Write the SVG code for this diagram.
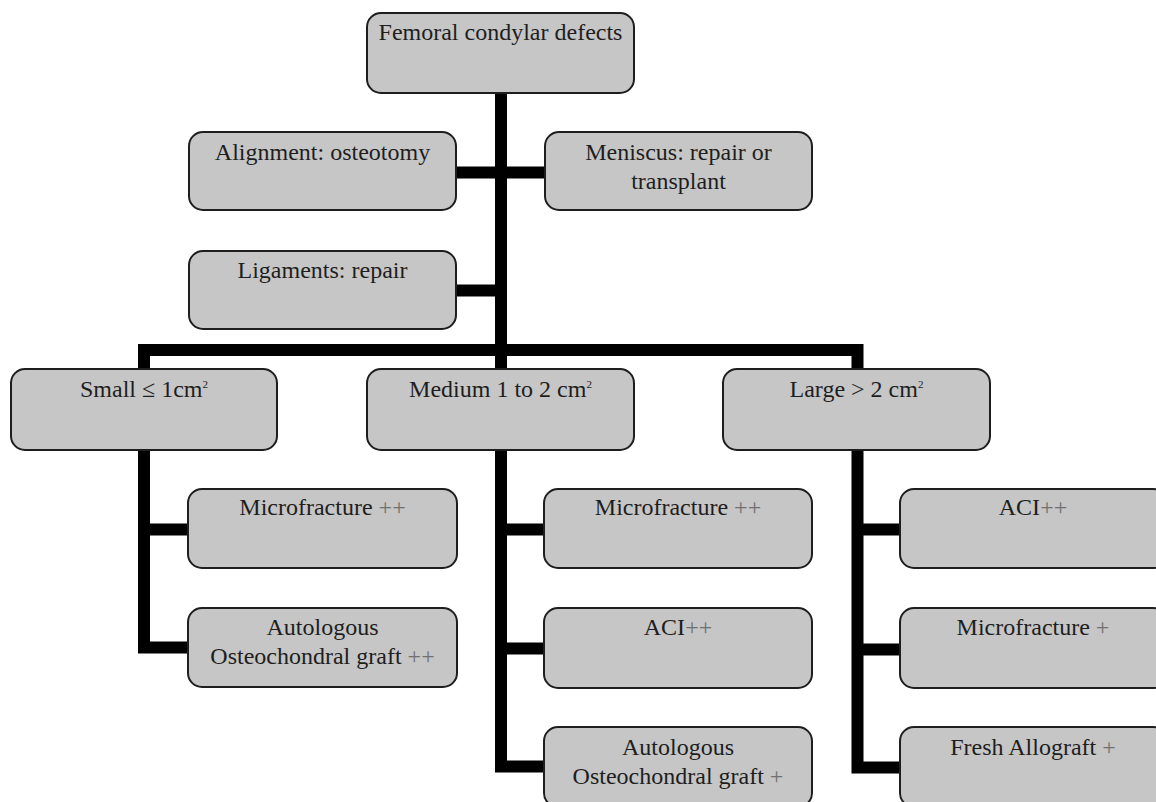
<svg xmlns="http://www.w3.org/2000/svg" width="1156" height="802" viewBox="0 0 1156 802">
<style>
.box{fill:#c6c6c6;stroke:#1e1e1e;stroke-width:2}
.t{font-family:"Liberation Serif","Times New Roman",serif;font-size:24px;fill:#1e1e1e;text-anchor:middle}
.p{fill:#707070}
.sup{font-size:11px}
.c{fill:none;stroke:#000;stroke-width:12;stroke-linejoin:miter;stroke-linecap:butt}
</style>
<rect width="1156" height="802" fill="#fff"/>
<g id="connectors">
<path class="c" d="M501 93 V369"/>
<path class="c" d="M456 172.5 H545"/>
<path class="c" d="M456 290.5 H501"/>
<path class="c" d="M144 369 V350 H857.5 V369"/>
<path class="c" d="M144 450 V647.5 H188"/>
<path class="c" d="M144 529.5 H188"/>
<path class="c" d="M501 450 V766.5 H544"/>
<path class="c" d="M501 529.5 H544"/>
<path class="c" d="M501 648.5 H544"/>
<path class="c" d="M857.5 450 V767.5 H900"/>
<path class="c" d="M857.5 529.5 H900"/>
<path class="c" d="M857.5 649.5 H900"/>
</g>
<g id="root"><rect class="box" x="367" y="13" width="267" height="80" rx="14"/><text class="t" x="500.5" y="40">Femoral condylar defects</text></g>
<g id="alignment"><rect class="box" x="189" y="132" width="267" height="78" rx="14"/><text class="t" x="322.5" y="160">Alignment: osteotomy</text></g>
<g id="meniscus"><rect class="box" x="545" y="132" width="267" height="78" rx="14"/><text class="t" x="678.5" y="160">Meniscus: repair or</text><text class="t" x="678.5" y="189">transplant</text></g>
<g id="ligaments"><rect class="box" x="189" y="251" width="267" height="78" rx="14"/><text class="t" x="322.5" y="278">Ligaments: repair</text></g>
<g id="small"><rect class="box" x="11" y="369" width="266" height="81" rx="14"/><text class="t" x="144" y="397">Small ≤ 1cm<tspan class="sup" dy="-9">2</tspan></text></g>
<g id="medium"><rect class="box" x="367" y="369" width="267" height="81" rx="14"/><text class="t" x="500.5" y="397">Medium 1 to 2 cm<tspan class="sup" dy="-9">2</tspan></text></g>
<g id="large"><rect class="box" x="723" y="369" width="267" height="81" rx="14"/><text class="t" x="856.5" y="397">Large &gt; 2 cm<tspan class="sup" dy="-9">2</tspan></text></g>
<g id="small-micro"><rect class="box" x="188" y="489" width="269" height="79" rx="14"/><text class="t" x="322.5" y="515">Microfracture <tspan class="p">++</tspan></text></g>
<g id="small-auto"><rect class="box" x="188" y="608" width="269" height="79" rx="14"/><text class="t" x="322.5" y="635">Autologous</text><text class="t" x="322.5" y="664">Osteochondral graft <tspan class="p">++</tspan></text></g>
<g id="medium-micro"><rect class="box" x="544" y="489" width="268" height="79" rx="14"/><text class="t" x="678" y="515">Microfracture <tspan class="p">++</tspan></text></g>
<g id="medium-aci"><rect class="box" x="544" y="608" width="268" height="80" rx="14"/><text class="t" x="678" y="635">ACI<tspan class="p">++</tspan></text></g>
<g id="medium-auto"><rect class="box" x="544" y="727" width="268" height="80" rx="14"/><text class="t" x="678" y="755">Autologous</text><text class="t" x="678" y="784">Osteochondral graft <tspan class="p">+</tspan></text></g>
<g id="large-aci"><rect class="box" x="900" y="489" width="267" height="79" rx="14"/><text class="t" x="1033" y="515">ACI<tspan class="p">++</tspan></text></g>
<g id="large-micro"><rect class="box" x="900" y="608" width="267" height="80" rx="14"/><text class="t" x="1033" y="635">Microfracture <tspan class="p">+</tspan></text></g>
<g id="large-fresh"><rect class="box" x="900" y="727" width="267" height="80" rx="14"/><text class="t" x="1033" y="755">Fresh Allograft <tspan class="p">+</tspan></text></g>
</svg>
